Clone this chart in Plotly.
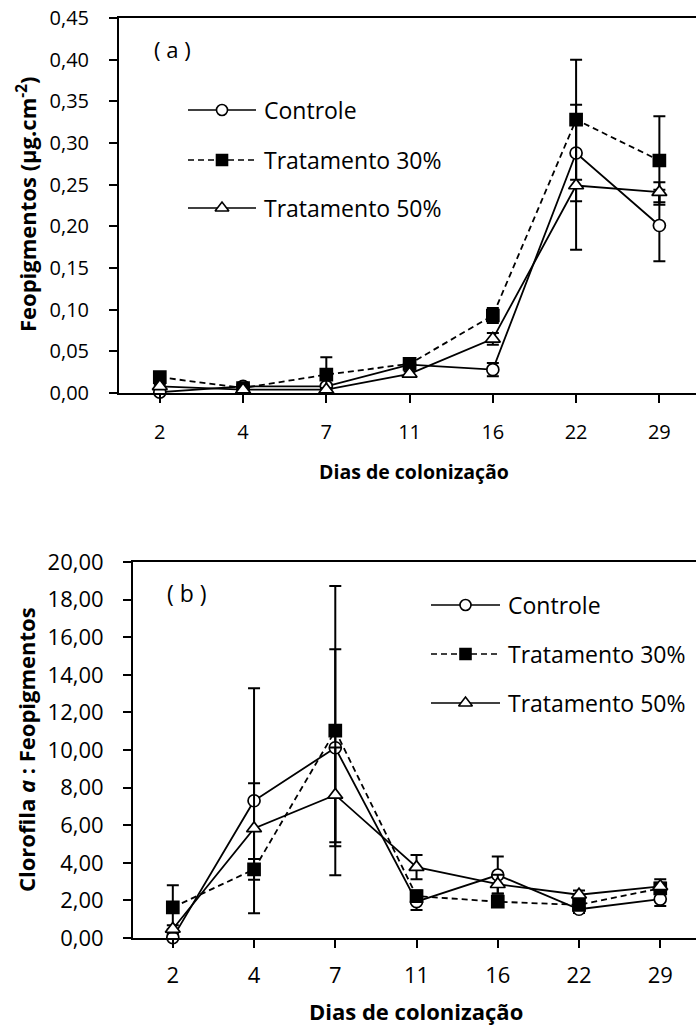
import plotly.graph_objects as go

# Sampling days (categorical x axis)
dias = ["2", "4", "7", "11", "16", "22", "29"]

# (a) Feopigmentos (µg.cm-2): means and standard deviations
feo_controle = [0.001, 0.008, 0.008, 0.034, 0.028, 0.288, 0.201]
feo_controle_dp = [0.002, 0.002, 0.003, 0.003, 0.008, 0.058, 0.043]
feo_t30 = [0.019, 0.006, 0.022, 0.035, 0.093, 0.328, 0.279]
feo_t30_dp = [0.003, 0.002, 0.021, 0.003, 0.009, 0.072, 0.053]
feo_t50 = [0.008, 0.004, 0.004, 0.023, 0.065, 0.249, 0.241]
feo_t50_dp = [0.002, 0.002, 0.002, 0.003, 0.007, 0.077, 0.012]

# (b) Clorofila a : Feopigmentos ratio: means and standard deviations
rel_controle = [0.02, 7.30, 10.12, 1.93, 3.35, 1.53, 2.07]
rel_controle_dp = [0.20, 5.98, 5.24, 0.44, 0.98, 0.20, 0.37]
rel_t30 = [1.63, 3.65, 11.03, 2.23, 1.93, 1.76, 2.64]
rel_t30_dp = [1.17, 0.55, 7.69, 0.30, 0.20, 0.20, 0.30]
rel_t50 = [0.48, 5.83, 7.61, 3.77, 2.86, 2.30, 2.75]
rel_t50_dp = [0.20, 2.40, 2.52, 0.64, 0.50, 0.22, 0.37]

# y-axis tick values (labels use a decimal comma)
ticks_a = [0, 0.05, 0.10, 0.15, 0.20, 0.25, 0.30, 0.35, 0.40, 0.45]
ticks_b = [0, 2, 4, 6, 8, 10, 12, 14, 16, 18, 20]

W, H = 696, 1030
FONT = "Open Sans"
BLACK = "#000000"

series_style = {
    "Controle": dict(symbol="circle", fill="white", dash="solid", size=12),
    "Tratamento 30%": dict(symbol="square", fill=BLACK, dash="6px,4px", size=12),
    "Tratamento 50%": dict(symbol="triangle-up", fill="white", dash="solid", size=13),
}

xpos = list(range(len(dias)))
fig = go.Figure()


def add_series(name, values, errors, xa, ya):
    st = series_style[name]
    fig.add_trace(go.Scatter(
        x=xpos, y=values, name=name, mode="lines+markers",
        xaxis=xa, yaxis=ya, showlegend=False, cliponaxis=False,
        line=dict(color=BLACK, width=1.8, dash=st["dash"]),
        marker=dict(symbol=st["symbol"], size=st["size"], color=st["fill"],
                    line=dict(color=BLACK, width=1.7)),
        error_y=dict(type="data", array=errors, visible=True,
                     color=BLACK, thickness=2, width=6),
    ))


add_series("Controle", feo_controle, feo_controle_dp, "x", "y")
add_series("Tratamento 30%", feo_t30, feo_t30_dp, "x", "y")
add_series("Tratamento 50%", feo_t50, feo_t50_dp, "x", "y")

add_series("Controle", rel_controle, rel_controle_dp, "x2", "y2")
add_series("Tratamento 30%", rel_t30, rel_t30_dp, "x2", "y2")
add_series("Tratamento 50%", rel_t50, rel_t50_dp, "x2", "y2")


# Pixel-space overlay used for the in-plot legends and labels
def legend_block(x0, x1, rows, text_x, fsize):
    xm = (x0 + x1) / 2
    for (name, yrow) in zip(series_style.keys(), rows):
        st = series_style[name]
        fig.add_trace(go.Scatter(
            x=[x0, x1], y=[yrow, yrow], mode="lines", xaxis="x3", yaxis="y3",
            showlegend=False, hoverinfo="skip",
            line=dict(color=BLACK, width=1.7, dash=st["dash"])))
        fig.add_trace(go.Scatter(
            x=[xm], y=[yrow], mode="markers", xaxis="x3", yaxis="y3",
            showlegend=False, hoverinfo="skip",
            marker=dict(symbol=st["symbol"], size=st["size"] - 1, color=st["fill"],
                        line=dict(color=BLACK, width=1.6))))
        fig.add_annotation(x=text_x, y=yrow, xref="x3", yref="y3", text=name,
                           showarrow=False, xanchor="left", yanchor="middle",
                           font=dict(family=FONT, size=fsize, color=BLACK))


legend_block(188, 256, [110, 160, 208], 262, 23)
legend_block(431, 500, [605, 654, 703], 506, 23)

annots = [
    dict(x=172, y=49, text="( a )", size=22),
    dict(x=187, y=593, text="( b )", size=23),
]
for a in annots:
    fig.add_annotation(x=a["x"], y=a["y"], xref="x3", yref="y3", text=a["text"],
                       showarrow=False, font=dict(family=FONT, size=a["size"], color=BLACK))

titles = [
    dict(x=26, y=205, text="<b>Feopigmentos (µg.cm<sup>-2</sup>)</b>", angle=-90, size=22),
    dict(x=414, y=471, text="<b>Dias de colonização</b>", angle=0, size=19.5),
    dict(x=26, y=750, text="<b>Clorofila <i>a</i> : Feopigmentos</b>", angle=-90, size=22),
    dict(x=416, y=1011, text="<b>Dias de colonização</b>", angle=0, size=22),
]
for t in titles:
    fig.add_annotation(x=t["x"], y=t["y"], xref="x3", yref="y3", text=t["text"],
                       textangle=t["angle"], showarrow=False,
                       font=dict(family=FONT, size=t["size"], color=BLACK))


def fmt(v, nd):
    return f"{v:.{nd}f}".replace(".", ",")


axis_common = dict(showline=True, linecolor=BLACK, linewidth=2, ticks="outside",
                   tickcolor=BLACK, tickwidth=2, ticklen=8, showgrid=False,
                   zeroline=False, automargin=False)

fig.update_layout(
    width=W, height=H, margin=dict(l=0, r=0, t=0, b=0, pad=0, autoexpand=False),
    paper_bgcolor="white", plot_bgcolor="rgba(0,0,0,0)",
    font=dict(family=FONT, color=BLACK),
    xaxis=dict(domain=[119 / W, 1], anchor="y", range=[-0.49, 6.44],
               tickvals=xpos, ticktext=dias, mirror=True,
               tickfont=dict(size=20), ticklabelstandoff=12, **axis_common),
    yaxis=dict(domain=[1 - 393 / H, 1 - 18 / H], anchor="x", range=[0, 0.45],
               tickvals=ticks_a, ticktext=[fmt(v, 2) for v in ticks_a],
               tickfont=dict(size=20), ticklabelstandoff=16, **axis_common),
    xaxis2=dict(domain=[133 / W, 1], anchor="y2", range=[-0.49, 6.44],
                tickvals=xpos, ticktext=dias, mirror=True,
                tickfont=dict(size=22), ticklabelstandoff=9, **axis_common),
    yaxis2=dict(domain=[1 - 938 / H, 1 - 562 / H], anchor="x2", range=[0, 20],
                tickvals=ticks_b, ticktext=[fmt(v, 2) for v in ticks_b],
                tickfont=dict(size=22), ticklabelstandoff=15, **axis_common),
    xaxis3=dict(domain=[0, 1], range=[0, W], visible=False, anchor="y3",
                automargin=False),
    yaxis3=dict(domain=[0, 1], range=[H, 0], visible=False, anchor="x3",
                automargin=False),
)

fig.write_html("out.html")
